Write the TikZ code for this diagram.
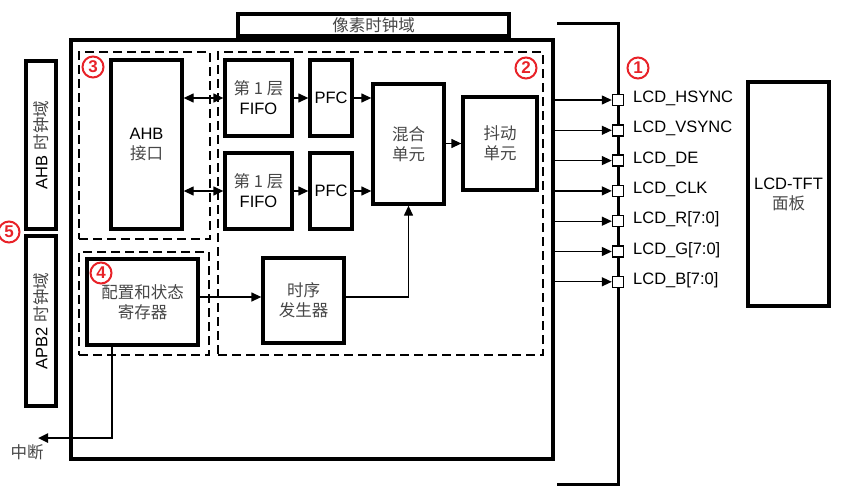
\documentclass[tikz,border=0pt]{standalone}
\usepackage{fontspec}
\setmainfont{Liberation Sans}
\newfontfamily\cjk{Noto Sans CJK SC}
\usetikzlibrary{arrows.meta}
\definecolor{zhgray}{gray}{0.28}
\definecolor{numred}{RGB}{232,34,40}
\newcommand{\zh}[1]{{\cjk\color{zhgray}#1}}

\begin{document}
\begin{tikzpicture}[x=1pt,y=-1pt,
  every node/.style={font=\fontsize{16.5}{20}\selectfont, align=center, inner sep=0pt},
  box/.style={draw, line width=3.3pt, rectangle},
  sz/.style 2 args={minimum width=#1pt, minimum height=#2pt},
  dbox/.style={draw, line width=2.8pt, dash pattern=on 9pt off 5pt},
  arr/.style={-{Triangle[length=10pt,width=9pt]}, line width=1.3pt},
  darr/.style={{Triangle[length=10pt,width=9pt]}-{Triangle[length=10pt,width=9pt]}, line width=1.3pt},
  padsq/.style={draw, fill=white, line width=1.4pt, minimum size=11pt},
  sig/.style={anchor=west},
  numc/.style={circle, draw=numred, line width=2pt, text=numred,
    font=\bfseries\fontsize{17}{17}\selectfont, minimum size=21pt, inner sep=0pt}]
\useasboundingbox (0,0) rectangle (845,493);

% clock domain labels
\node[box, sz={271}{22}] (pix) at (373.5,25) {\zh{像素时钟域}};
\node[box, rotate=90, sz={168}{30}] (ahbclk) at (41,145) {AHB \zh{时钟域}};
\node[box, rotate=90, sz={170}{30}] (apbclk) at (41,321) {APB2 \zh{时钟域}};

% controller outline and sub-blocks
\node[box, line width=4pt, sz={482}{419}] (outer) at (312,249.5) {};
\node[dbox, sz={131}{187}] (d3) at (144.5,145.5) {};
\node[dbox, sz={325}{303}] (d2) at (380.5,203.5) {};
\node[dbox, sz={130}{103}] (d4) at (144,303.5) {};

\node[box, sz={71}{169}] (ahb) at (146.5,144.5) {AHB\\\zh{接口}};
\node[box, sz={67}{76}] (fifo1) at (258.5,98) {\zh{第 1 层}\\FIFO};
\node[box, sz={67}{76}] (fifo2) at (258.5,191) {\zh{第 1 层}\\FIFO};
\node[box, sz={42}{76}] (pfc1) at (331,98) {PFC};
\node[box, sz={42}{76}] (pfc2) at (331,191) {PFC};
\node[box, sz={71}{120}] (mix) at (408.5,144) {\zh{混合}\\\zh{单元}};
\node[box, sz={74}{93}] (dith) at (500,143.5) {\zh{抖动}\\\zh{单元}};
\node[box, line width=4.2pt, sz={111}{86}] (cfg) at (142.5,302) {\zh{配置和状态}\\\zh{寄存器}};
\node[box, sz={81}{85}] (tim) at (303.5,300.5) {\zh{时序}\\\zh{发生器}};

% data path
\draw[darr] (ahb.east |- fifo1) -- (fifo1.west);
\draw[darr] (ahb.east |- fifo2) -- (fifo2.west);
\draw[arr] (fifo1) -- (pfc1);
\draw[arr] (fifo2) -- (pfc2);
\draw[arr] (pfc1.east) -- (mix.west |- pfc1);
\draw[arr] (pfc2.east) -- (mix.west |- pfc2);
\draw[arr] (mix.east |- dith) -- (dith.west);

% control path
\coordinate (tsig) at (0,297);
\draw[arr] (cfg.east |- tsig) -- (tim.west |- tsig);
\draw[arr] (tim.east |- tsig) -| (mix.south);
\coordinate (irqx) at (112,0);
\coordinate (irq) at (38,438);
\draw[line width=2.4pt, -{Triangle[length=10pt,width=9pt]}] (cfg.south -| irqx) |- (irq);
\node (irqt) at (27,452) {\zh{中断}};

% LCD pin bus
\coordinate (busTL) at (557,23);
\coordinate (busT) at (618,23);
\coordinate (busB) at (618,484);
\coordinate (busBL) at (557,484);
\draw[line width=3pt] (busTL) -- (busT) -- (busB) -- (busBL);
\foreach \i/\y/\t in {1/100/LCD\_HSYNC, 2/130.3/LCD\_VSYNC, 3/160.6/LCD\_DE,
    4/190.9/LCD\_CLK, 5/221.2/{LCD\_R[7:0]}, 6/251.5/{LCD\_G[7:0]}, 7/281.8/{LCD\_B[7:0]}} {
  \node[padsq] (p\i) at (618,\y) {};
  \node[sig] (s\i) at (633,\y-1.5) {\t};
  \draw[arr] (outer.east |- p\i) -- (p\i.west);
}

\node[box, sz={81}{224}] (panel) at (788.5,194) {LCD-TFT\\\zh{面板}};

% section markers
\node[numc] (n1) at (638,68) {1};
\node[numc] (n2) at (526,68) {2};
\node[numc] (n3) at (93,67) {3};
\node[numc] (n4) at (101,273) {4};
\node[numc] (n5) at (9,232) {5};
\end{tikzpicture}
\end{document}
